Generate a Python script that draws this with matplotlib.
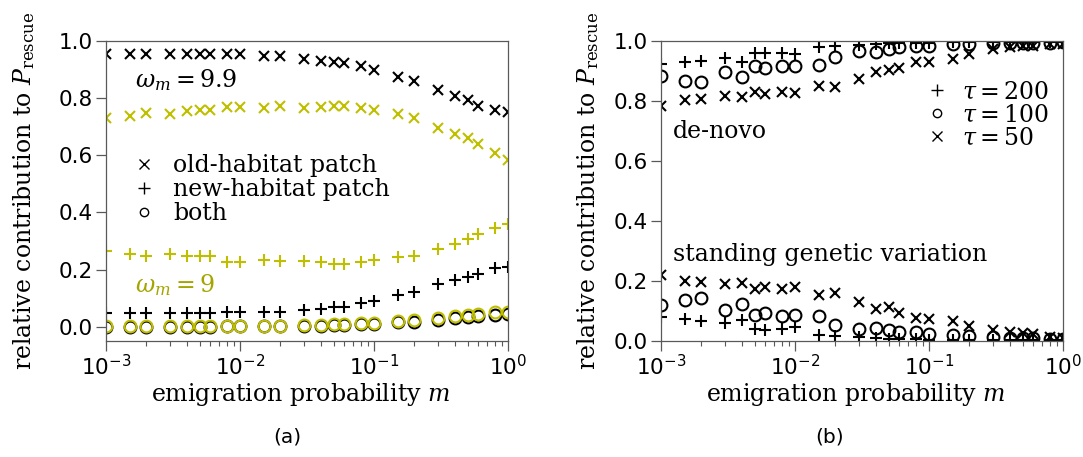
import numpy as np
import matplotlib
matplotlib.use("Agg")
import matplotlib.pyplot as plt
from matplotlib.lines import Line2D
from matplotlib.font_manager import FontProperties

# emigration probabilities (shared by both panels)
m = [0.001, 0.0015, 0.002, 0.003, 0.004, 0.005, 0.006, 0.008, 0.01, 0.015, 0.02,
     0.03, 0.04, 0.05, 0.06, 0.08, 0.1, 0.15, 0.2, 0.3, 0.4, 0.5, 0.6, 0.8, 1.0]

# --- panel (a): omega_m = 9.9 (black) and omega_m = 9 (yellow)
old_99 = [0.953, 0.953, 0.953, 0.953, 0.953, 0.953, 0.953, 0.953, 0.953, 0.949, 0.949,
          0.938, 0.929, 0.926, 0.924, 0.912, 0.898, 0.873, 0.859, 0.827, 0.807, 0.792,
          0.774, 0.760, 0.751]
new_99 = [0.049, 0.049, 0.049, 0.049, 0.049, 0.049, 0.049, 0.051, 0.051, 0.051, 0.051,
          0.057, 0.063, 0.070, 0.070, 0.082, 0.090, 0.110, 0.121, 0.148, 0.162, 0.174,
          0.183, 0.206, 0.210]
both_99 = [0.000, 0.000, 0.000, 0.000, 0.000, 0.000, 0.000, 0.001, 0.001, 0.001, 0.001,
           0.003, 0.004, 0.006, 0.007, 0.010, 0.011, 0.015, 0.018, 0.025, 0.031, 0.034,
           0.037, 0.041, 0.044]
old_9 = [0.731, 0.739, 0.749, 0.743, 0.754, 0.757, 0.760, 0.770, 0.770, 0.764, 0.772,
         0.766, 0.770, 0.774, 0.772, 0.766, 0.758, 0.743, 0.731, 0.696, 0.676, 0.661,
         0.638, 0.609, 0.585]
new_9 = [0.265, 0.256, 0.247, 0.256, 0.249, 0.249, 0.247, 0.227, 0.227, 0.235, 0.230,
         0.230, 0.226, 0.220, 0.220, 0.226, 0.235, 0.245, 0.249, 0.273, 0.290, 0.308,
         0.323, 0.346, 0.361]
both_9 = [0.003, 0.002, 0.002, 0.003, 0.002, 0.002, 0.002, 0.003, 0.003, 0.003, 0.003,
          0.006, 0.006, 0.009, 0.009, 0.014, 0.014, 0.020, 0.024, 0.032, 0.039, 0.041,
          0.045, 0.050, 0.053]

# --- panel (b): de-novo (upper) and standing genetic variation (lower) for three tau
denovo_200 = [0.925, 0.929, 0.933, 0.943, 0.929, 0.960, 0.960, 0.960, 0.957, 0.980, 0.985,
              0.988, 0.990, 0.992, 0.993, 0.994, 0.995, 0.996, 0.996, 0.997, 0.998, 0.998,
              0.998, 0.998, 0.998]
denovo_100 = [0.884, 0.868, 0.862, 0.898, 0.881, 0.916, 0.910, 0.918, 0.918, 0.921, 0.946,
              0.968, 0.965, 0.974, 0.980, 0.985, 0.985, 0.990, 0.990, 0.994, 0.994, 0.994,
              0.995, 0.995, 0.996]
denovo_50 = [0.784, 0.803, 0.806, 0.817, 0.812, 0.829, 0.823, 0.831, 0.826, 0.851, 0.846,
             0.873, 0.896, 0.905, 0.909, 0.929, 0.931, 0.940, 0.957, 0.974, 0.980, 0.983,
             0.985, 0.990, 0.990]
sgv_200 = [0.080, 0.073, 0.067, 0.060, 0.069, 0.041, 0.036, 0.041, 0.047, 0.021, 0.016,
           0.012, 0.010, 0.008, 0.007, 0.006, 0.005, 0.004, 0.004, 0.003, 0.002, 0.002,
           0.002, 0.002, 0.002]
sgv_100 = [0.120, 0.136, 0.142, 0.105, 0.122, 0.088, 0.095, 0.084, 0.088, 0.083, 0.055,
           0.039, 0.045, 0.038, 0.030, 0.030, 0.025, 0.019, 0.016, 0.013, 0.011, 0.010,
           0.009, 0.008, 0.007]
sgv_50 = [0.220, 0.201, 0.198, 0.189, 0.194, 0.175, 0.181, 0.172, 0.179, 0.153, 0.159,
          0.131, 0.108, 0.112, 0.092, 0.078, 0.072, 0.067, 0.049, 0.038, 0.030, 0.027,
          0.022, 0.013, 0.011]

YEL = "#bfbf00"
YEL_TXT = "#a5a500"
SERIF = "DejaVu Serif"
FS = 17      # serif texts
TFS = 15.5   # tick labels

plt.rcParams["font.family"] = "DejaVu Sans"
plt.rcParams["mathtext.fontset"] = "dejavusans"

serif_prop = FontProperties(family=SERIF, size=FS, math_fontfamily="dejavuserif")
MS = {"x": 7.5, "+": 9, "o": 8.5}


def style_axes(ax):
    ax.set_xscale("log")
    ax.set_xlim(1e-3, 1.0)
    for sp in ax.spines.values():
        sp.set_linewidth(0.9)
        sp.set_color("0.35")
    ax.tick_params(which="major", length=7, width=0.9, labelsize=TFS, color="0.35", pad=2.5)
    ax.tick_params(which="minor", length=3.5, width=0.8, color="0.35")
    ax.tick_params(axis="y", which="minor", left=False)
    ax.set_yticks([0.0, 0.2, 0.4, 0.6, 0.8, 1.0])
    ax.set_xlabel("emigration probability $m$", fontproperties=serif_prop)
    ax.set_ylabel(r"relative contribution to $P_{\mathrm{rescue}}$", fontproperties=serif_prop)
    ax.xaxis.set_label_coords(0.485, -0.132)


def pts(ax, y, marker, color):
    ax.plot(m, y, ls="none", marker=marker, ms=MS[marker], mew=1.5, color=color,
            mfc="none" if marker == "o" else color)


fig = plt.figure(figsize=(10.83, 4.57), dpi=100)
axa = fig.add_axes([106 / 1083, 116 / 457, 402 / 1083, 300 / 457])
axb = fig.add_axes([661 / 1083, 116 / 457, 402 / 1083, 300 / 457])

# panel (a)
pts(axa, old_99, "x", "k")
pts(axa, new_99, "+", "k")
pts(axa, both_99, "o", "k")
pts(axa, old_9, "x", YEL)
pts(axa, new_9, "+", YEL)
pts(axa, both_9, "o", YEL)
style_axes(axa)
axa.set_ylim(-0.05, 1.0)
axa.yaxis.set_label_coords(-0.172, 0.5)
axa.text(0.072, 0.87, r"$\omega_m = 9.9$", transform=axa.transAxes, fontsize=FS,
         family=SERIF, math_fontfamily="dejavuserif", va="center", color="k")
axa.text(0.072, 0.187, r"$\omega_m = 9$", transform=axa.transAxes, fontsize=FS,
         family=SERIF, math_fontfamily="dejavuserif", va="center", color=YEL_TXT)
ha = [Line2D([], [], ls="none", marker="x", ms=6.5, mew=1.0, color="k"),
      Line2D([], [], ls="none", marker="+", ms=9, mew=1.0, color="k"),
      Line2D([], [], ls="none", marker="o", ms=6, mew=1.0, color="k", mfc="none")]
axa.legend(ha, ["old-habitat patch", "new-habitat patch", "both"], prop=serif_prop,
           loc="center left", bbox_to_anchor=(0.067, 0.505), frameon=False,
           borderpad=0, borderaxespad=0, handlelength=0.9, handletextpad=0.8,
           labelspacing=0.05)

# panel (b)
for yu, yl, mk in [(denovo_200, sgv_200, "+"), (denovo_100, sgv_100, "o"),
                   (denovo_50, sgv_50, "x")]:
    pts(axb, yu, mk, "k")
    pts(axb, yl, mk, "k")
style_axes(axb)
axb.set_ylim(0.0, 1.0)
axb.yaxis.set_label_coords(-0.149, 0.5)
axb.text(0.03, 0.70, "de-novo", transform=axb.transAxes, fontsize=FS, family=SERIF,
         va="center")
axb.text(0.03, 0.287, "standing genetic variation", transform=axb.transAxes,
         fontsize=FS, family=SERIF, va="center")
hb = [Line2D([], [], ls="none", marker="+", ms=9, mew=1.0, color="k"),
      Line2D([], [], ls="none", marker="o", ms=6, mew=1.0, color="k", mfc="none"),
      Line2D([], [], ls="none", marker="x", ms=6.5, mew=1.0, color="k")]
axb.legend(hb, [r"$\tau = 200$", r"$\tau = 100$", r"$\tau = 50$"], prop=serif_prop,
           loc="center left", bbox_to_anchor=(0.66, 0.753), frameon=False,
           borderpad=0, borderaxespad=0, handlelength=0.9, handletextpad=0.6,
           labelspacing=0.0)

fig.text(287 / 1083, 1 - 437 / 457, "(a)", ha="center", va="center", fontsize=14.5)
fig.text(830 / 1083, 1 - 437 / 457, "(b)", ha="center", va="center", fontsize=14.5)

fig.savefig("out.png", dpi=100)
